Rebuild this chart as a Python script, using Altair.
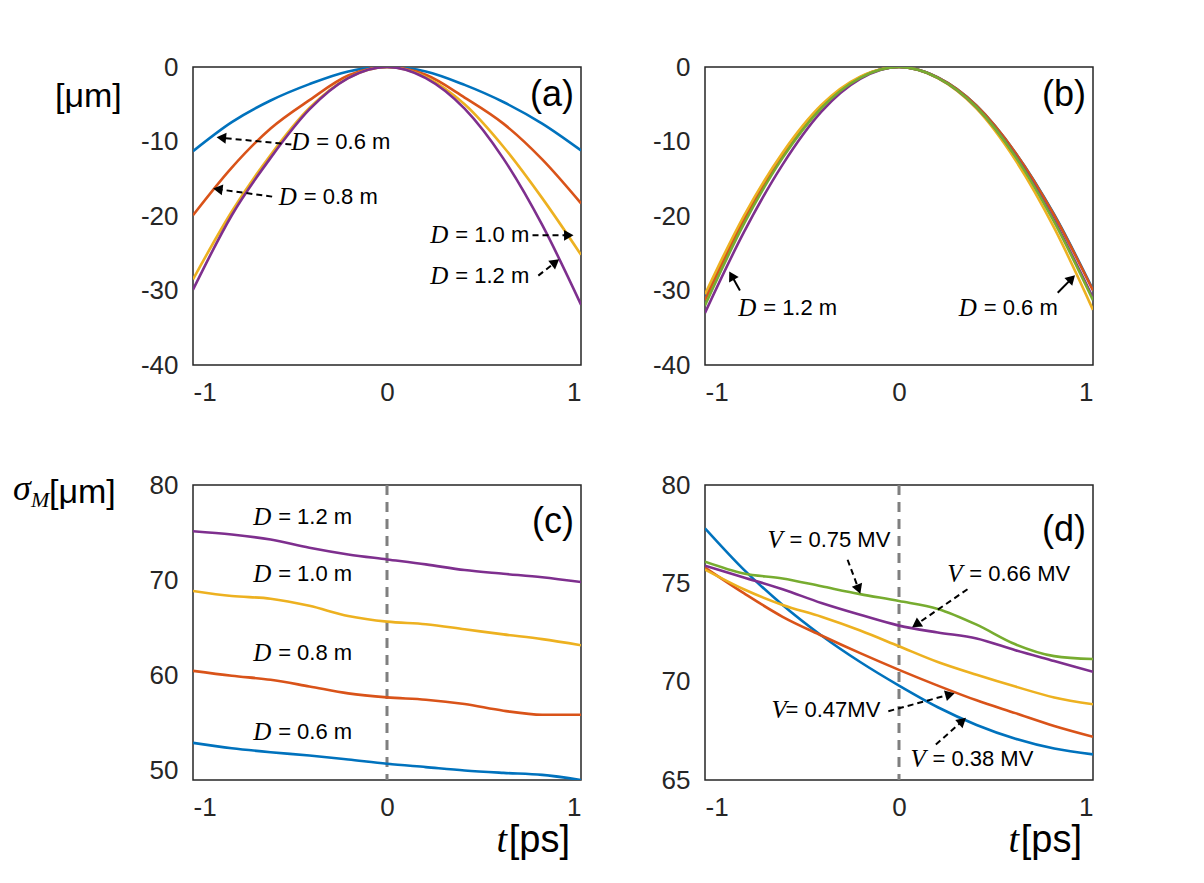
import math
import altair as alt
import pandas as pd

# ---------------- data ----------------
T = [-1.0, -0.8, -0.6, -0.4, -0.2, 0.0, 0.2, 0.4, 0.6, 0.8, 1.0]

SERIES_NAMES = ["blue", "orange", "yellow", "purple", "green"]
SERIES_COLORS = ["#0072BD", "#D95319", "#EDB120", "#7E2F8E", "#77AC30"]

# (a) displacement [um]
a_blue = [-11.3, -7.4, -4.5, -2.3, -0.6, 0.0, -0.6, -2.4, -4.7, -7.6, -11.2]
a_orange = [-19.9, -13.5, -8.25, -4.45, -1.15, 0.0, -1.05, -4.1, -7.6, -12.4, -18.3]
a_yellow = [-28.5, -19.4, -11.8, -5.5, -1.45, 0.0, -1.35, -5.0, -10.7, -17.6, -25.2]
a_purple = [-29.9, -19.9, -12.2, -5.7, -1.5, 0.0, -1.5, -5.6, -12.3, -21.2, -31.9]

# (b)
b_blue = [-31.0, -20.5, -11.9, -5.4, -1.4, 0.0, -1.4, -5.2, -11.5, -19.8, -29.9]
b_orange = [-31.3, -20.6, -12.0, -5.4, -1.4, 0.0, -1.4, -5.2, -11.5, -19.9, -30.0]
b_yellow = [-30.5, -20.0, -11.5, -5.1, -1.3, 0.0, -1.5, -5.6, -12.5, -21.6, -32.6]
b_purple = [-33.0, -22.2, -13.1, -6.0, -1.6, 0.0, -1.45, -5.4, -11.9, -20.6, -31.0]
b_green = [-32.0, -21.1, -12.2, -5.5, -1.45, 0.0, -1.45, -5.4, -12.0, -20.8, -31.3]

# (c) sigma_M [um]
c_blue = [52.9, 52.34, 51.92, 51.57, 51.15, 50.7, 50.35, 50.0, 49.75, 49.54, 49.0]
c_orange = [60.47, 59.95, 59.53, 58.83, 58.1, 57.68, 57.44, 56.98, 56.28, 55.86, 55.86]
c_yellow = [68.86, 68.33, 68.05, 67.3, 66.24, 65.64, 65.37, 64.84, 64.3, 63.8, 63.16]
c_purple = [75.14, 74.8, 74.27, 73.4, 72.7, 72.18, 71.66, 71.06, 70.67, 70.3, 69.8]

# (d)
d_blue = [77.8, 75.7, 73.9, 72.35, 71.0, 69.8, 68.7, 67.8, 67.1, 66.6, 66.3]
d_orange = [75.8, 74.5, 73.3, 72.35, 71.45, 70.6, 69.8, 69.05, 68.4, 67.75, 67.2]
d_yellow = [75.7, 74.7, 73.9, 73.3, 72.6, 71.8, 71.0, 70.35, 69.75, 69.2, 68.85]
d_purple = [75.9, 75.3, 74.7, 74.0, 73.4, 72.85, 72.5, 72.2, 71.6, 71.05, 70.5]
d_green = [76.1, 75.5, 75.25, 74.85, 74.45, 74.1, 73.7, 72.9, 71.9, 71.3, 71.15]

X_TICKS = [-1, 0, 1]
A_TICKS = [-40, -30, -20, -10, 0]
C_TICKS = [50, 60, 70, 80]
D_TICKS = [65, 70, 75, 80]

# annotation texts: (symbol, rest, t, y, gap)
a_labels = [("D", "= 0.6 m", -0.493, -10.1, 25), ("D", "= 0.8 m", -0.558, -17.4, 25),
            ("D", "= 1.0 m", 0.223, -22.6, 25), ("D", "= 1.2 m", 0.223, -28.0, 25)]
a_arrows = [(-0.493, -10.4, -0.854, -9.5), (-0.592, -17.4, -0.872, -16.4),
            (0.75, -22.6, 0.937, -22.6), (0.78, -28.0, 0.868, -26.2)]
b_labels = [("D", "= 1.2 m", -0.829, -32.4, 25), ("D", "= 0.6 m", 0.308, -32.4, 25)]
b_arrows = [(-0.82, -30.0, -0.863, -28.0), (0.818, -30.3, 0.89, -28.4)]
c_labels = [("D", "= 1.2 m", -0.69, 76.6, 25), ("D", "= 1.0 m", -0.69, 70.6, 25),
            ("D", "= 0.8 m", -0.69, 62.3, 25), ("D", "= 0.6 m", -0.69, 54.0, 25)]
d_labels = [("V", "= 0.75 MV", -0.678, 77.2, 22), ("V", "= 0.66 MV", 0.249, 75.5, 22),
            ("V", "= 0.47MV", -0.657, 68.56, 14), ("V", "= 0.38 MV", 0.059, 66.06, 22)]
d_arrows = [(-0.265, 76.2, -0.208, 74.7), (0.353, 74.7, 0.088, 72.9),
            (-0.055, 68.5, 0.263, 69.35), (0.19, 66.8, 0.327, 68.0)]

SANS = "Liberation Sans"
SERIF = "Liberation Serif"
W = 388


def panel(series, ydom, yticks, H, labels, arrows, tag, tag_y, vline, extra_text, arrow_dash=True):
    xs = alt.Scale(domain=[-1, 1], nice=False, zero=False)
    ys = alt.Scale(domain=ydom, nice=False, zero=False)
    rows = []
    for nm, vals in series:
        for t, v in zip(T, vals):
            rows.append({"t": t, "v": v, "s": nm})
    df = pd.DataFrame(rows)
    lines = alt.Chart(df).mark_line(strokeWidth=2.6, interpolate="monotone", clip=True).encode(
        x=alt.X("t:Q", scale=xs, axis=alt.Axis(values=X_TICKS, labelExpr="datum.value + ''",
                                                 labelPadding=14, title=None)),
        y=alt.Y("v:Q", scale=ys, axis=alt.Axis(values=yticks, labelExpr="datum.value + ''",
                                                 labelPadding=15, title=None)),
        color=alt.Color("s:N", scale=alt.Scale(domain=SERIES_NAMES, range=SERIES_COLORS), legend=None),
    )
    layers = []
    if vline:
        layers.append(alt.Chart(pd.DataFrame({"t": [0.0]})).mark_rule(
            color="#7f7f7f", strokeWidth=3, strokeDash=[10, 7]).encode(x=alt.X("t:Q", scale=xs)))
    layers.append(lines)
    if labels:
        ldf = pd.DataFrame([{"sym": s, "rest": r, "t": t, "y": y, "gap": g} for s, r, t, y, g in labels])
        layers.append(alt.Chart(ldf).mark_text(font=SERIF, fontStyle="italic", fontSize=25, align="left",
                                               baseline="middle", color="black").encode(
            x=alt.X("t:Q", scale=xs), y=alt.Y("y:Q", scale=ys), text="sym:N"))
        for g in sorted(set(ldf["gap"])):
            sub = ldf[ldf["gap"] == g]
            layers.append(alt.Chart(sub).mark_text(font=SANS, fontSize=22, align="left", baseline="middle",
                                                   dx=int(g), color="black").encode(
                x=alt.X("t:Q", scale=xs), y=alt.Y("y:Q", scale=ys), text="rest:N"))
    if arrows:
        kx = W / 2.0
        ky = H / (ydom[1] - ydom[0])
        recs = []
        for t0, y0, t1, y1 in arrows:
            dx = (t1 - t0) * kx
            dy = -(y1 - y0) * ky
            ang = math.degrees(math.atan2(dx, -dy)) % 360
            recs.append({"t0": t0, "y0": y0, "t1": t1, "y1": y1, "ang": ang})
        adf = pd.DataFrame(recs)
        rule_kw = dict(color="black", strokeWidth=2)
        if arrow_dash:
            rule_kw["strokeDash"] = [6, 4]
        layers.append(alt.Chart(adf).mark_rule(**rule_kw).encode(
            x=alt.X("t0:Q", scale=xs), y=alt.Y("y0:Q", scale=ys), x2="t1:Q", y2="y1:Q"))
        layers.append(alt.Chart(adf).mark_point(shape="triangle-up", filled=True, size=120, opacity=1,
                                                color="black").encode(
            x=alt.X("t1:Q", scale=xs), y=alt.Y("y1:Q", scale=ys), angle=alt.Angle("ang:Q", scale=None)))
    layers.append(alt.Chart(pd.DataFrame({"s": [tag]})).mark_text(
        font=SANS, fontSize=36, align="right", baseline="middle", color="black").encode(
        text="s:N", x=alt.value(W - 7), y=alt.value(tag_y)))
    for txt, x, y, size, font, style, align in extra_text:
        kw = dict(font=font, fontSize=size, align=align, baseline="alphabetic", color="black")
        if style:
            kw["fontStyle"] = style
        layers.append(alt.Chart(pd.DataFrame({"s": [txt]})).mark_text(**kw).encode(
            text="s:N", x=alt.value(x), y=alt.value(y)))
    return alt.layer(*layers).properties(width=W, height=H)


H1, H2 = 298, 295
pa = panel([("blue", a_blue), ("orange", a_orange), ("yellow", a_yellow), ("purple", a_purple)],
           [-40, 0], A_TICKS, H1, a_labels, a_arrows, "(a)", 28, False,
           [("[μm]", -138, 40, 34, SANS, None, "left")])
pb = panel([("blue", b_blue), ("orange", b_orange), ("yellow", b_yellow), ("purple", b_purple), ("green", b_green)],
           [-40, 0], A_TICKS, H1, b_labels, b_arrows, "(b)", 28, False, [], arrow_dash=False)
tparts_c = [("[ps]", W - 11, H2 + 72, 38, SANS, None, "right"),
            ("t", W - 74, H2 + 72, 38, SERIF, "italic", "right")]
pc = panel([("blue", c_blue), ("orange", c_orange), ("yellow", c_yellow), ("purple", c_purple)],
           [49, 80], C_TICKS, H2, c_labels, None, "(c)", 37, True,
           [("σ", -180, 15, 36, SERIF, "italic", "left"),
            ("M", -162, 22, 22, SERIF, "italic", "left"),
            ("[μm]", -144, 18, 34, SANS, None, "left")] + tparts_c)
pd_ = panel([("blue", d_blue), ("orange", d_orange), ("yellow", d_yellow), ("purple", d_purple), ("green", d_green)],
            [65, 80], D_TICKS, H2, d_labels, d_arrows, "(d)", 45, True, tparts_c)

chart = alt.concat(pa, pb, pc, pd_, columns=2, spacing={"row": 120, "column": 124}, bounds="flush").configure_view(
    stroke="#262626", strokeWidth=1.5
).configure_axis(
    grid=False, ticks=False, domain=False, labelFont=SANS, labelFontSize=26, labelColor="#262626"
).properties(
    padding={"left": 4, "top": 45, "right": 5, "bottom": 5}, background="white"
)

chart.save("out.html", embed_options={"renderer": "svg", "actions": False})
